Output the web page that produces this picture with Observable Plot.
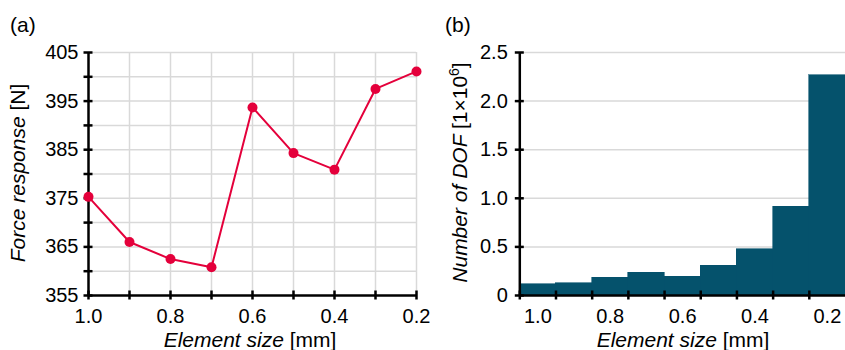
<!DOCTYPE html>
<html><head><meta charset="utf-8">
<script src="https://cdn.jsdelivr.net/npm/d3@7"></script>
<script src="https://cdn.jsdelivr.net/npm/@observablehq/plot@0.6"></script>
<style>
body{margin:0;background:#fff;}
#wrap{position:relative;width:845px;height:350px;overflow:hidden;background:#fff;}
#a,#b{position:absolute;top:0;}
#a{left:0;} #b{left:430px;}
</style></head><body><div id="wrap"><div id="a"></div><div id="b"></div></div>
<script>
// ---- data ----
const elementSizes = [1.0, 0.9, 0.8, 0.7, 0.6, 0.5, 0.4, 0.3, 0.2];
const forceResponse = [375.3, 366.0, 362.5, 360.8, 393.7, 384.3, 380.9, 397.5, 401.1];
const dofMillions = [0.115, 0.127, 0.185, 0.233, 0.192, 0.308, 0.476, 0.915, 2.268];
const binEdges = [1.05, 0.95, 0.85, 0.75, 0.65, 0.55, 0.45, 0.35, 0.25, 0.15];
const forceTicks = [355, 360, 365, 370, 375, 380, 385, 390, 395, 400, 405];
const forceTickLabels = [355, 365, 375, 385, 395, 405];
const sizeTickLabels = [1.0, 0.8, 0.6, 0.4, 0.2];
const dofTicks = [0, 0.5, 1.0, 1.5, 2.0, 2.5];

const FONT = '"Liberation Sans", Arial, sans-serif';
const RED = "#e4003b";
const TEAL = "#05526c";
const GRID = "#d9d9d9";

const force = elementSizes.map((s, i) => ({size: s, force: forceResponse[i]}));
const dof = elementSizes.map((s, i) => ({size: s, x1: binEdges[i], x2: binEdges[i + 1], dof: dofMillions[i]}));

const baseStyle = {fontFamily: FONT, fontSize: "20px", color: "#000", background: "#fff", overflow: "visible"};

const left = Plot.plot({
  width: 430, height: 350,
  marginLeft: 88, marginRight: 14, marginTop: 52, marginBottom: 55,
  style: baseStyle,
  x: {domain: [1.0, 0.2]},
  y: {domain: [355, 405]},
  marks: [
    Plot.ruleX(elementSizes.slice(1), {stroke: GRID, strokeWidth: 1.5}),
    Plot.ruleY(forceTicks.slice(1), {stroke: GRID, strokeWidth: 1.5}),
    Plot.axisX({ticks: sizeTickLabels, tickSize: 0, tickPadding: 13, tickFormat: d => d.toFixed(1), label: null, fontSize: 20}),
    Plot.axisY({ticks: forceTickLabels, tickSize: 0, tickPadding: 10, label: null, fontSize: 20}),
    Plot.ruleY([355], {stroke: "#000", strokeWidth: 2.5}),
    Plot.ruleX([1.0], {stroke: "#000", strokeWidth: 2.5}),
    Plot.ruleX(elementSizes, {x: d => d, y1: 355, y2: 355, insetTop: -4.5, insetBottom: -4.5, stroke: "#000", strokeWidth: 2.5}),
    Plot.ruleY(forceTicks, {y: d => d, x1: 1.0, x2: 1.0, insetLeft: -4.5, insetRight: -4.5, stroke: "#000", strokeWidth: 2.5}),
    Plot.line(force, {x: "size", y: "force", stroke: RED, strokeWidth: 2}),
    Plot.dot(force, {x: "size", y: "force", r: 5, fill: RED})
  ]
});

const right = Plot.plot({
  width: 415, height: 350,
  marginLeft: 89.3, marginRight: 0, marginTop: 52, marginBottom: 55,
  style: baseStyle,
  x: {domain: [1.05, 0.15]},
  y: {domain: [0, 2.5]},
  marks: [
    Plot.ruleY(dofTicks.slice(1), {stroke: GRID, strokeWidth: 1.5}),
    Plot.rectY(dof, {x1: "x1", x2: "x2", y: "dof", fill: TEAL, stroke: TEAL, strokeWidth: 0.6, shapeRendering: "crispEdges"}),
    Plot.axisX({ticks: sizeTickLabels, tickSize: 0, tickPadding: 13, tickFormat: d => d.toFixed(1), label: null, fontSize: 20}),
    Plot.axisY({ticks: dofTicks, tickSize: 0, tickPadding: 12, tickFormat: d => d === 0 ? "0" : d.toFixed(1), label: null, fontSize: 20}),
    Plot.ruleY([0], {stroke: "#000", strokeWidth: 2.5}),
    Plot.ruleX([1.05], {stroke: "#000", strokeWidth: 2.5}),
    Plot.ruleX(binEdges.slice(0, -1), {x: d => d, y1: 0, y2: 0, insetTop: -4.5, insetBottom: -4.5, stroke: "#000", strokeWidth: 2.5}),
    Plot.ruleY(dofTicks, {y: d => d, x1: 1.05, x2: 1.05, insetLeft: -4.5, insetRight: -4.5, stroke: "#000", strokeWidth: 2.5})
  ]
});

function addText(svg, {x, y, rotate = 0, anchor = "middle", parts}) {
  const t = d3.select(svg).append("text")
    .attr("transform", `translate(${x},${y}) rotate(${rotate})`)
    .attr("text-anchor", anchor)
    .attr("font-family", FONT)
    .attr("font-size", 21)
    .attr("fill", "#000")
    .style("white-space", "pre");
  for (const p of parts) {
    const s = t.append("tspan").text(p.text);
    if (p.italic) s.attr("font-style", "italic");
    if (p.sup) s.attr("font-size", 14).attr("dy", -8);
    if (p.down) s.attr("dy", 8);
  }
}

addText(left, {x: 10, y: 32, anchor: "start", parts: [{text: "(a)"}]});
addText(left, {x: 250, y: 347, parts: [{text: "Element size ", italic: true}, {text: "[mm]"}]});
addText(left, {x: 25, y: 173, rotate: -90, parts: [{text: "Force response ", italic: true}, {text: "[N]"}]});

addText(right, {x: 15, y: 32, anchor: "start", parts: [{text: "(b)"}]});
addText(right, {x: 253, y: 347, parts: [{text: "Element size ", italic: true}, {text: "[mm]"}]});
addText(right, {x: 37, y: 172.5, rotate: -90, parts: [
  {text: "Number of DOF ", italic: true}, {text: "[1×10"}, {text: "6", sup: true}, {text: "]", down: true}
]});

document.getElementById("a").appendChild(left);
document.getElementById("b").appendChild(right);
</script></body></html>
